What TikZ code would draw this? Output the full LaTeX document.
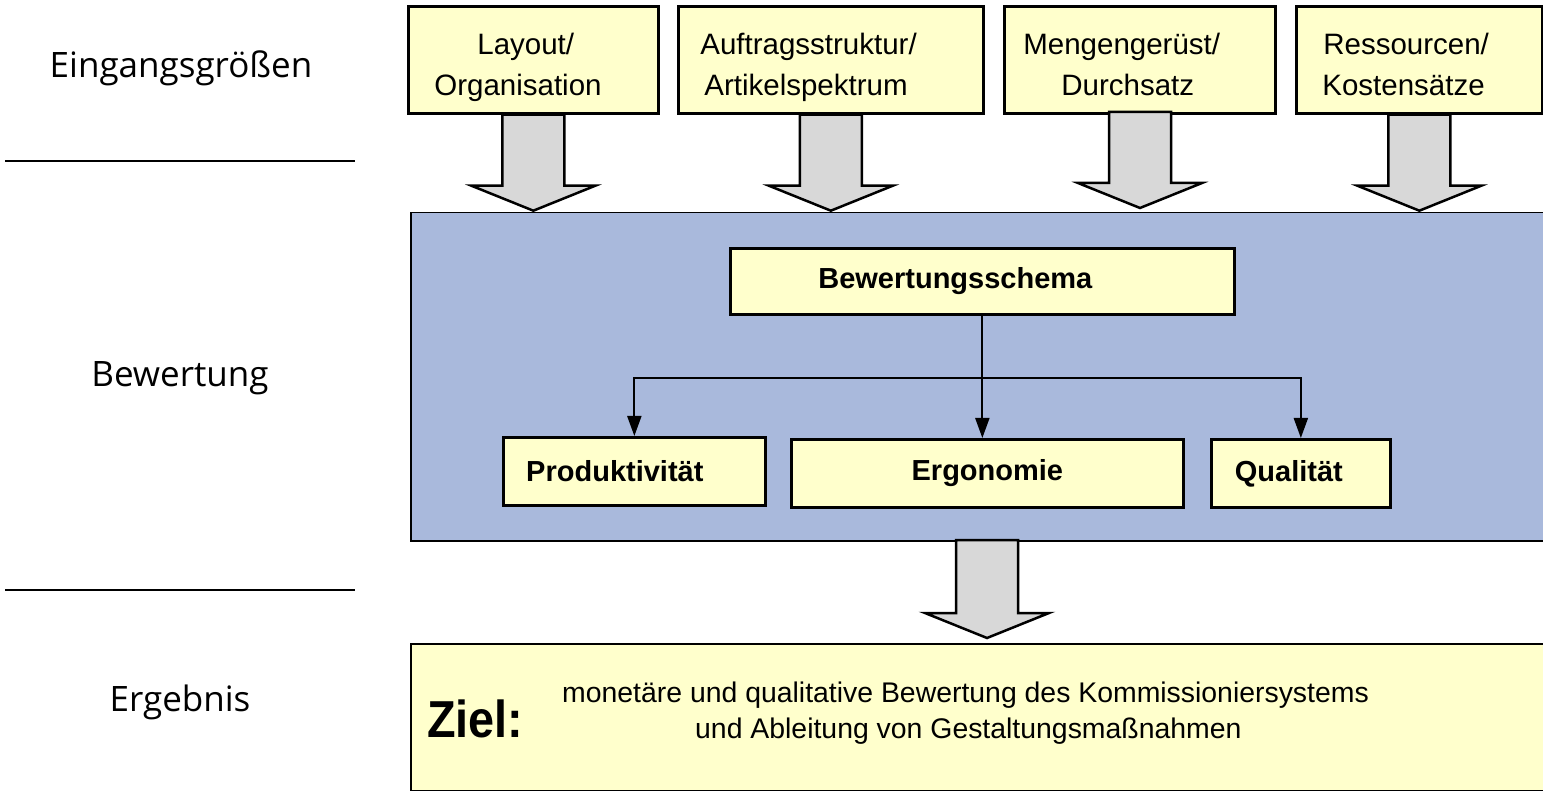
\documentclass[tikz,border=0pt]{standalone}
\usepackage{fontspec}
\setmainfont{Liberation Sans}
\newfontfamily\labfont{Open Sans}
\usetikzlibrary{arrows.meta,calc}
\definecolor{boxyellow}{HTML}{FFFFCC}
\definecolor{panelblue}{HTML}{A9B9DC}
\definecolor{arrgray}{HTML}{D8D8D8}
\newcommand\blockarr[2]{%
  \draw[fatarrow] ($(#1)+(-31,0)$) -- ($(#2)+(-31,-25)$) -- ($(#2)+(-62,-25)$) -- (#2)
    -- ($(#2)+(62,-25)$) -- ($(#2)+(31,-25)$) -- ($(#1)+(31,0)$) -- cycle;}
\newcommand\topstrut{\rule{0pt}{38pt}}
\newcommand\botstrut{\rule[-8pt]{0pt}{8pt}}
\begin{document}
\begin{tikzpicture}[x=1pt,y=-1pt,
  inbox/.style={draw=black, line width=2.7pt, fill=boxyellow, anchor=north west,
    inner sep=0pt, align=left, minimum height=107pt,
    font=\fontsize{29.5}{41}\selectfont},
  subbox/.style={draw=black, line width=2.7pt, fill=boxyellow, anchor=north west,
    inner sep=0pt, align=center, font=\fontsize{29}{34}\selectfont\bfseries},
  sidelabel/.style={font=\labfont\fontsize{35}{40}\selectfont},
  fatarrow/.style={draw=black, line width=2.5pt, fill=arrgray, line join=miter},
  sepline/.style={draw=black, line width=2pt},
  conn/.style={draw=black, line width=2pt},
  connarr/.style={conn, -{Triangle[length=20pt,width=14pt]}}
]
\useasboundingbox (0,0) rectangle (1543,791);

% side labels
\node[sidelabel] (lin) at (181,68) {Eingangsgrößen};
\node[sidelabel] (lbew) at (180,378) {Bewertung};
\node[sidelabel] (lerg) at (180,702) {Ergebnis};
\coordinate (s1a) at (5,161); \coordinate (s1b) at (355,161);
\coordinate (s2a) at (5,590); \coordinate (s2b) at (355,590);
\draw[sepline] (s1a) -- (s1b);
\draw[sepline] (s2a) -- (s2b);

% panels
\node[draw=black, line width=1.5pt, fill=panelblue, anchor=north west, minimum width=1133pt, minimum height=328pt, inner sep=0pt] (panel) at (410,212) {};
\node[draw=black, line width=2pt, fill=boxyellow, anchor=north west, minimum width=1133pt, minimum height=147pt, inner sep=0pt] (ziel) at (410,643) {};

% input boxes
\node[inbox, text width=250pt] (b1) at (407,5) {\topstrut\hspace*{69pt}Layout/\\\hspace*{26pt}Organisation\botstrut};
\node[inbox, text width=305pt] (b2) at (677,5) {\topstrut\hspace*{22pt}Auftragsstruktur/\\\hspace*{26pt}Artikelspektrum\botstrut};
\node[inbox, text width=271pt] (b3) at (1003,5) {\topstrut\hspace*{19pt}Mengengerüst/\\\hspace*{57pt}Durchsatz\botstrut};
\node[inbox, text width=246pt] (b4) at (1295,5) {\topstrut\hspace*{27pt}Ressourcen/\\\hspace*{26pt}Kostensätze\botstrut};

% block arrows
\coordinate (a1s) at (b1.south); \coordinate (a1t) at ($(b1.south)+(0,96)$);
\coordinate (a2s) at (b2.south); \coordinate (a2t) at ($(b2.south)+(0,96)$);
\coordinate (a3s) at (1140,112); \coordinate (a3t) at (1140,208);
\coordinate (a4s) at (b4.south); \coordinate (a4t) at ($(b4.south)+(0,96)$);
\blockarr{a1s}{a1t}
\blockarr{a2s}{a2t}
\blockarr{a3s}{a3t}
\blockarr{a4s}{a4t}
\coordinate (a5s) at (987,540); \coordinate (a5t) at (987,638);
\blockarr{a5s}{a5t}

% inner boxes
\node[subbox, minimum width=504pt, minimum height=66pt] (bs) at (729,247) {Bewertungsschema\hspace*{54pt}};
\node[subbox, minimum width=262pt, minimum height=68pt] (prod) at (502,436) {Produktivität\hspace*{39pt}};
\node[subbox, minimum width=392pt, minimum height=68pt] (ergo) at (790,438) {Ergonomie};
\node[subbox, minimum width=179pt, minimum height=68pt] (qual) at (1210,438) {Qualität\hspace*{24pt}};

\coordinate (jn) at ($(bs.south)+(0,62)$);
\draw[connarr] (bs.south) -- (bs.south |- ergo.north);
\draw[connarr] (jn) -| (prod.north);
\draw[connarr] (jn) -| (qual.north);

% Ziel text
\node[font=\bfseries\fontsize{52}{56}\selectfont, anchor=base west, inner sep=0pt] (zl) at (427,737) {\scalebox{0.9}[1]{Ziel:}};
\node[font=\fontsize{28.4}{36}\selectfont, align=left, anchor=north west, inner sep=0pt] (zt) at (562,680) {\rule{0pt}{22pt}monetäre und qualitative Bewertung des Kommissioniersystems\\\hspace*{133pt}und Ableitung von Gestaltungsmaßnahmen};
\end{tikzpicture}
\end{document}
